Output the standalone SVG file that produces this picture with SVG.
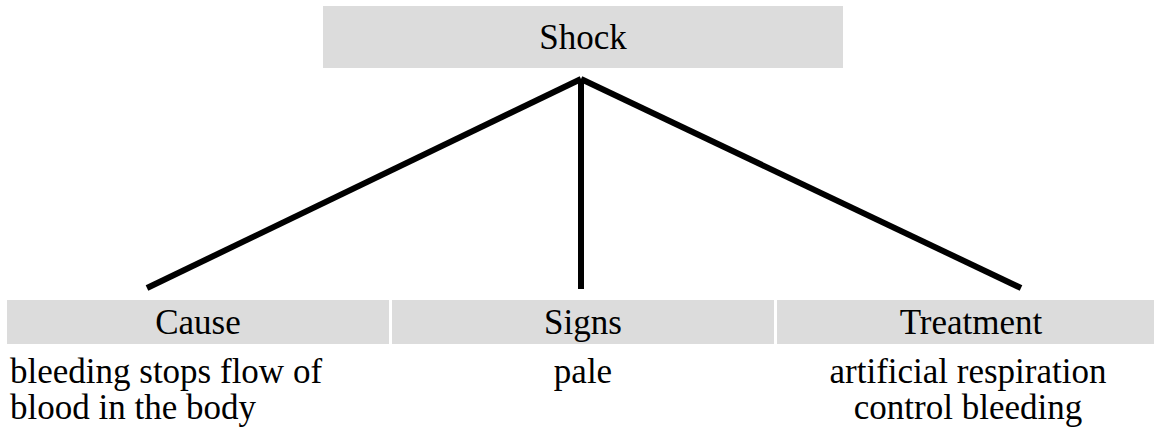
<svg xmlns="http://www.w3.org/2000/svg" width="1154" height="444" viewBox="0 0 1154 444">
<style>
.box{fill:#dcdcdc;}
text{font-family:'Liberation Serif','Times New Roman','DejaVu Serif',serif;font-size:35px;fill:#000;}
.c{text-anchor:middle;}
.edge{stroke:#000;stroke-width:6;fill:none;stroke-linecap:butt;}
</style>
<rect width="1154" height="444" fill="#fff"/>
<g id="connectors">
<line class="edge" x1="581" y1="79" x2="147" y2="288"/>
<line class="edge" x1="581" y1="79" x2="581" y2="289"/>
<line class="edge" x1="581" y1="79" x2="1021" y2="288"/>
</g>
<g id="shock" font-family="Liberation Serif, serif">
<rect class="box" x="323" y="6" width="520" height="62"/>
<text class="c" x="583" y="49">Shock</text>
</g>
<g id="cause" font-family="Liberation Serif, serif">
<rect class="box" x="7" y="300" width="382" height="44"/>
<text class="c" x="198" y="334">Cause</text>
<text x="10" y="383">bleeding stops flow of</text>
<text x="10" y="419">blood in the body</text>
</g>
<g id="signs" font-family="Liberation Serif, serif">
<rect class="box" x="392" y="300" width="382" height="44"/>
<text class="c" x="583" y="334">Signs</text>
<text class="c" x="583" y="383">pale</text>
</g>
<g id="treatment" font-family="Liberation Serif, serif">
<rect class="box" x="777" y="300" width="388" height="44"/>
<text class="c" x="971" y="334">Treatment</text>
<text class="c" x="968" y="383">artificial respiration</text>
<text class="c" x="968" y="419">control bleeding</text>
</g>
</svg>
